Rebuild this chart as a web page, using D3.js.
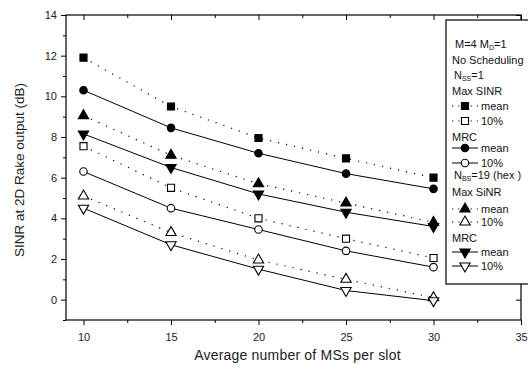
<!DOCTYPE html>
<html>
<head>
<meta charset="utf-8">
<script src="https://cdn.jsdelivr.net/npm/d3@7"></script>
<style>
  body { margin: 0; background: #fff; }
  svg { display: block; font-family: "Liberation Sans", Arial, sans-serif; }
</style>
</head>
<body>
<div id="chart"></div>
<script>
// MSs per slot
const msPerSlot = [10, 15, 20, 25, 30];

// N_SS = 1
const ssMaxSinrMean = [11.9, 9.5, 7.95, 6.95, 6.0];
const ssMaxSinr10 = [7.55, 5.5, 4.0, 3.0, 2.05];
const ssMrcMean = [10.3, 8.45, 7.2, 6.2, 5.45];
const ssMrc10 = [6.3, 4.5, 3.45, 2.4, 1.6];

// N_BS = 19 (hex)
const bsMaxSinrMean = [9.05, 7.1, 5.7, 4.75, 3.8];
const bsMaxSinr10 = [5.1, 3.3, 1.95, 1.0, 0.1];
const bsMrcMean = [8.15, 6.5, 5.2, 4.3, 3.6];
const bsMrc10 = [4.5, 2.7, 1.5, 0.45, -0.05];

const xTicks = [10, 15, 20, 25, 30, 35];
const yTicks = [0, 2, 4, 6, 8, 10, 12, 14];

const series = [
  { values: ssMaxSinrMean, shape: "square", filled: true, dotted: true },
  { values: ssMrcMean, shape: "circle", filled: true, dotted: false },
  { values: ssMaxSinr10, shape: "square", filled: false, dotted: true },
  { values: ssMrc10, shape: "circle", filled: false, dotted: false },
  { values: bsMaxSinrMean, shape: "up", filled: true, dotted: true },
  { values: bsMrcMean, shape: "down", filled: true, dotted: false },
  { values: bsMaxSinr10, shape: "up", filled: false, dotted: true },
  { values: bsMrc10, shape: "down", filled: false, dotted: false }
];

const width = 528, height = 369;
const pLeft = 66, pRight = 521, pTop = 15, pBottom = 320;

const svg = d3.select("#chart").append("svg")
  .attr("width", width)
  .attr("height", height);

const x = d3.scaleLinear().domain([9, 35]).range([pLeft, pRight]);
const y = d3.scaleLinear().domain([-1, 14]).range([pBottom, pTop]);

const minorX = d3.range(12.5, 35, 5);
const minorY = d3.range(-1, 14, 2);

// frame
svg.append("rect")
  .attr("x", pLeft).attr("y", pTop)
  .attr("width", pRight - pLeft).attr("height", pBottom - pTop)
  .attr("fill", "none").attr("stroke", "#000").attr("stroke-width", 1.2);

const xAxis = svg.append("g")
  .attr("transform", `translate(0,${pBottom})`)
  .call(d3.axisBottom(x).tickValues(xTicks).tickSize(5).tickPadding(8).tickFormat(d3.format("d")));
xAxis.select(".domain").remove();
xAxis.selectAll("text").attr("font-size", 11).attr("fill", "#222");

svg.append("g")
  .attr("transform", `translate(0,${pBottom})`)
  .call(d3.axisBottom(x).tickValues(minorX).tickSize(3).tickFormat(""))
  .call(g => g.select(".domain").remove());

const yAxis = svg.append("g")
  .attr("transform", `translate(${pLeft},0)`)
  .call(d3.axisLeft(y).tickValues(yTicks).tickSize(5).tickPadding(4));
yAxis.select(".domain").remove();
yAxis.selectAll("text").attr("font-size", 11).attr("fill", "#222");

svg.append("g")
  .attr("transform", `translate(${pLeft},0)`)
  .call(d3.axisLeft(y).tickValues(minorY).tickSize(3).tickFormat(""))
  .call(g => g.select(".domain").remove());

// mirrored ticks on top and right, pointing inward
svg.append("g")
  .attr("transform", `translate(0,${pTop})`)
  .call(d3.axisBottom(x).tickValues(xTicks).tickSize(5).tickFormat(""))
  .call(g => g.select(".domain").remove());
svg.append("g")
  .attr("transform", `translate(0,${pTop})`)
  .call(d3.axisBottom(x).tickValues(minorX).tickSize(3).tickFormat(""))
  .call(g => g.select(".domain").remove());
svg.append("g")
  .attr("transform", `translate(${pRight},0)`)
  .call(d3.axisRight(y).tickValues(yTicks).tickSize(-5).tickFormat(""))
  .call(g => g.select(".domain").remove());

// axis titles
svg.append("text")
  .attr("x", (pLeft + pRight) / 2 + 4).attr("y", 360)
  .attr("text-anchor", "middle").attr("font-size", 14).attr("letter-spacing", 0.2)
  .attr("fill", "#222")
  .text("Average number of MSs per slot");

svg.append("text")
  .attr("transform", `translate(24,170) rotate(-90)`)
  .attr("text-anchor", "middle").attr("font-size", 13.5).attr("fill", "#222")
  .text("SINR at 2D Rake output (dB)");

// markers
const symbolFor = shape => {
  if (shape === "square") return d3.symbol(d3.symbolSquare, 50)();
  if (shape === "circle") return d3.symbol(d3.symbolCircle, 44)();
  return d3.symbol(d3.symbolTriangle, 46)();
};
const rot = shape => shape === "down" ? " rotate(180)" : "";

const line = d3.line()
  .x((d, i) => x(msPerSlot[i]))
  .y(d => y(d));

const plot = svg.append("g");
series.forEach(s => {
  plot.append("path")
    .attr("d", line(s.values))
    .attr("fill", "none")
    .attr("stroke", "#000")
    .attr("stroke-width", s.dotted ? 1.2 : 1)
    .attr("stroke-dasharray", s.dotted ? "1.2,7" : null);
});
series.forEach(s => {
  plot.selectAll(null)
    .data(s.values)
    .join("path")
    .attr("transform", (d, i) => `translate(${x(msPerSlot[i])},${y(d)})${rot(s.shape)}`)
    .attr("d", symbolFor(s.shape))
    .attr("fill", s.filled ? "#000" : "#fff")
    .attr("stroke", "#000")
    .attr("stroke-width", 1.1);
});

// legend
const lg = svg.append("g");
lg.append("rect")
  .attr("x", 446).attr("y", 20)
  .attr("width", 100).attr("height", 264)
  .attr("fill", "#fff").attr("stroke", "#000").attr("stroke-width", 1.2);

const legendText = [
  { y: 48, parts: [["M=4  M", 0], ["D", 1], ["=1", 0]], x: 455 },
  { y: 64, parts: [["No Scheduling", 0]], x: 452 },
  { y: 79, parts: [["N", 0], ["SS", 1], ["=1", 0]], x: 454 },
  { y: 95, parts: [["Max SINR", 0]], x: 452 },
  { y: 141, parts: [["MRC", 0]], x: 452 },
  { y: 179, parts: [["N", 0], ["BS", 1], ["=19 (hex )", 0]], x: 454 },
  { y: 196, parts: [["Max SiNR", 0]], x: 452 },
  { y: 242, parts: [["MRC", 0]], x: 452 }
];
legendText.forEach(t => {
  const txt = lg.append("text").attr("x", t.x).attr("y", t.y)
    .attr("font-size", 11).attr("fill", "#111");
  t.parts.forEach(([s, sub]) => {
    txt.append("tspan")
      .attr("baseline-shift", sub ? "-30%" : null)
      .attr("font-size", sub ? 7 : 11)
      .text(s);
  });
});

const legendRows = [
  { y: 106, si: 0, label: "mean" },
  { y: 121, si: 2, label: "10%" },
  { y: 148, si: 1, label: "mean" },
  { y: 163, si: 3, label: "10%" },
  { y: 209, si: 4, label: "mean" },
  { y: 222, si: 6, label: "10%" },
  { y: 252, si: 5, label: "mean" },
  { y: 266, si: 7, label: "10%" }
];
legendRows.forEach(r => {
  const s = series[r.si];
  lg.append("line")
    .attr("x1", 452).attr("x2", 478).attr("y1", r.y).attr("y2", r.y)
    .attr("stroke", "#000").attr("stroke-width", s.dotted ? 1.2 : 1)
    .attr("stroke-dasharray", s.dotted ? "1.2,5" : null);
  lg.append("path")
    .attr("transform", `translate(465,${r.y})${rot(s.shape)}`)
    .attr("d", symbolFor(s.shape))
    .attr("fill", s.filled ? "#000" : "#fff")
    .attr("stroke", "#000").attr("stroke-width", 1.1);
  lg.append("text")
    .attr("x", 481).attr("y", r.y + 4)
    .attr("font-size", 11).attr("fill", "#111")
    .text(r.label);
});
</script>
</body>
</html>
